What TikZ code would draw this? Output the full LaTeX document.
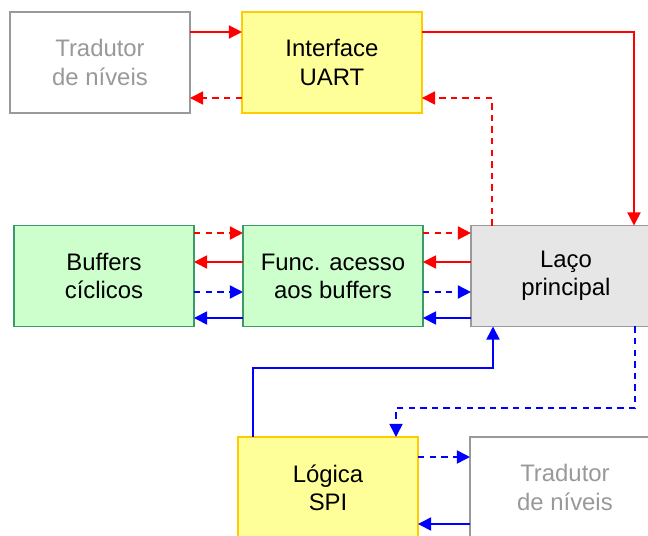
\documentclass[tikz,border=0pt]{standalone}
\usepackage{fontspec}
\setmainfont{Liberation Sans}
\usepackage{tikz}
\usetikzlibrary{arrows.meta,positioning,calc}

\definecolor{amarelo}{HTML}{FFFF99}
\definecolor{amareloborda}{HTML}{FFCC00}
\definecolor{verde}{HTML}{CCFFCC}
\definecolor{verdeborda}{HTML}{3C9A6A}
\definecolor{cinzafundo}{HTML}{E6E6E6}
\definecolor{cinza}{HTML}{999999}
\definecolor{vermelho}{HTML}{FF0000}
\definecolor{azul}{HTML}{0000FF}

\tikzset{
	block/.style = {
		draw,
		rectangle,
		minimum height=2.02cm,
		minimum width=3.6cm,
		line width=1pt,
		align=center,
		inner sep=0pt,
		outer sep=0pt,
		font=\fontsize{13.6}{16}\selectfont
	},
	tradutor/.style = {
		block,
		draw=cinza,
		fill=white,
		text=cinza,
		minimum width=3.8cm
	},
	interface/.style = {
		block,
		draw=amareloborda,
		fill=amarelo
	},
	buffer/.style = {
		block,
		draw=verdeborda,
		fill=verde
	},
	laco/.style = {
		block,
		draw=cinza,
		fill=cinzafundo,
		minimum width=3.8cm
	},
	signal/.style = {
		-{Triangle[length=7.5pt,width=7.5pt]},
		line width=0.9pt
	},
	redflow/.style = {
		signal,
		vermelho
	},
	blueflow/.style = {
		signal,
		azul
	},
	pedido/.style = {
		dash pattern=on 3.6pt off 3pt
	}
}

\begin{document}
\begin{tikzpicture}[x=0.02cm, y=-0.02cm]
	
	\useasboundingbox (0,0) rectangle (648,536);
	\clip (0,0) rectangle (648,536);
	
	% --- Blocos ---
	\node [tradutor, minimum width=3.6cm] (trad1) at (100,62.5) {Tradutor \\ de níveis};
	
	\node [interface, right=1.04cm of trad1] (uart) {Interface \\ UART};
	
	\node [buffer] (buf) at (104,276) {Buffers \\ cíclicos};
	
	\node [buffer, right=0.98cm of buf] (func) {Func. acesso \\ aos buffers};
	
	\node [laco, right=0.96cm of func] (laco) {Laço \\ principal};
	
	\node [interface] (spi) at (328,487.5) {Lógica \\ SPI};
	
	\node [tradutor, right=1.04cm of spi] (trad2) {Tradutor \\ de níveis};
	
	% --- Conexões UART ---
	\draw [redflow] (trad1.east |- 0,32) -- (uart.west |- 0,32);
	\draw [redflow, pedido] (uart.west |- 0,98) -- (trad1.east |- 0,98);
	\draw [redflow] (uart.east |- 0,32) -| (laco.north -| 634,0);
	\draw [redflow, pedido] (laco.north -| 492,0) |- (uart.east |- 0,98);
	
	% --- Conexões buffers ---
	\draw [redflow, pedido] (buf.east |- 0,233) -- (func.west |- 0,233);
	\draw [redflow] (func.west |- 0,262) -- (buf.east |- 0,262);
	\draw [blueflow, pedido] (buf.east |- 0,292) -- (func.west |- 0,292);
	\draw [blueflow] (func.west |- 0,318) -- (buf.east |- 0,318);
	
	\draw [redflow, pedido] (func.east |- 0,233) -- (laco.west |- 0,233);
	\draw [redflow] (laco.west |- 0,262) -- (func.east |- 0,262);
	\draw [blueflow, pedido] (func.east |- 0,292) -- (laco.west |- 0,292);
	\draw [blueflow] (laco.west |- 0,318) -- (func.east |- 0,318);
	
	% --- Conexões SPI ---
	\draw [blueflow] (spi.north -| 253,0) -- (253,368) -| (laco.south -| 493,0);
	\draw [blueflow, pedido] (laco.south -| 635,0) -- (635,408) -| (spi.north -| 396,0);
	\draw [blueflow, pedido] (spi.east |- 0,457) -- (trad2.west |- 0,457);
	\draw [blueflow] (trad2.west |- 0,524) -- (spi.east |- 0,524);
	
\end{tikzpicture}
\end{document}
